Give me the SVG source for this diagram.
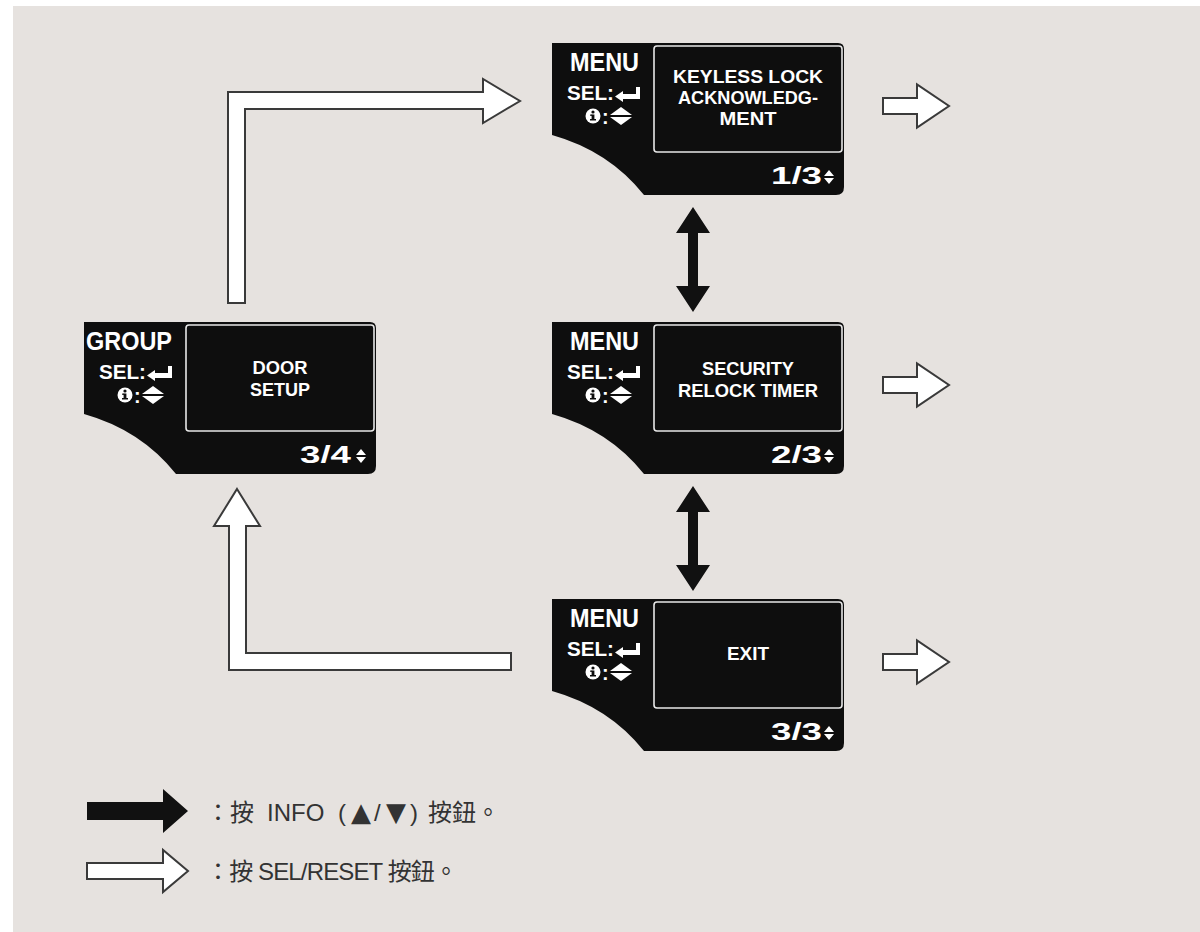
<svg xmlns="http://www.w3.org/2000/svg" xmlns:xlink="http://www.w3.org/1999/xlink" width="1200" height="932" viewBox="0 0 1200 932">
<style>
.bg{fill:#e6e2df}
.node{fill:#0e0e0e}
.screen{fill:none;stroke:#e8e8e8;stroke-width:1.6}
.t{font-family:"Liberation Sans",Arial,sans-serif;font-weight:bold;fill:#fff}
.title{font-size:26px}
.sel{font-size:20px}
.inner{font-size:19px;text-anchor:middle}
.page{font-size:23px}
.ico{fill:#fff}
.white-arrow{fill:#fff;stroke:#3a3a3a;stroke-width:2;stroke-linejoin:miter}
.black-arrow{fill:#111}
.legend{font-family:"Liberation Sans","Noto Sans CJK TC",sans-serif;font-size:24px;fill:#333}
.tri{font-family:"DejaVu Sans",sans-serif;font-size:26px}
</style>
<defs>
<path id="nodeShape" d="M0,0 H286 Q292,0 292,6 V144 Q292,152 284,152 H92 Q57,108 0,92 Z"/>
<g id="retIcon"><path d="M63,53.5 L71,48 V51 H84 V44 H88 V56 H71 V59 Z"/></g>
<g id="infoIcon">
<circle cx="41" cy="73" r="7.5" fill="#fff"/>
<circle cx="41" cy="69" r="1.6" fill="#0e0e0e"/>
<rect x="39.6" y="71.5" width="2.8" height="5.5" fill="#0e0e0e"/>
<rect x="38.2" y="71.5" width="2" height="1.4" fill="#0e0e0e"/>
<rect x="38" y="76" width="6" height="1.5" fill="#0e0e0e"/>
</g>
<g id="udIcon"><path d="M69,64 L80,72 H58 Z M58,74 H80 L69,82 Z"/></g>
<g id="udSmall"><path d="M277,127 L282,133 H272 Z M272,135 H282 L277,141 Z"/></g>
</defs>
<rect x="13" y="6" width="1187" height="926" class="bg"/>

<g id="connectors">
<path class="white-arrow" d="M228,303 V92 H483 V79 L520,101 L483,123 V109 H245 V303 Z"/>
<path class="white-arrow" d="M237,489 L260,526 H246 V653 H511 V670 H229 V526 H214 Z"/>
<path class="white-arrow" d="M883,98 H917 V84.5 L949,106 L917,127.5 V114 H883 Z"/>
<path class="white-arrow" d="M883,377 H917 V363.5 L949,385 L917,406.5 V393 H883 Z"/>
<path class="white-arrow" d="M883,654 H917 V640.5 L949,662 L917,683.5 V670 H883 Z"/>
<path class="black-arrow" d="M693,207 L710,233 H698 V286 H710 L693,312 L676,286 H688 V233 H676 Z"/>
<path class="black-arrow" d="M693,486 L710,512 H698 V565 H710 L693,591 L676,565 H688 V512 H676 Z"/>
</g>

<g id="node-group" transform="translate(84,322)">
<use xlink:href="#nodeShape" class="node"/>
<rect x="102" y="3" width="188" height="106" rx="3" class="screen"/>
<text class="t title" x="2" y="28" textLength="86" lengthAdjust="spacingAndGlyphs">GROUP</text>
<text class="t sel" x="15" y="57" textLength="47" lengthAdjust="spacingAndGlyphs">SEL:</text>
<use xlink:href="#retIcon" class="ico"/>
<use xlink:href="#infoIcon"/>
<text class="t sel" x="50" y="81">:</text>
<use xlink:href="#udIcon" class="ico"/>
<text class="t inner" x="196" y="52" textLength="55" lengthAdjust="spacingAndGlyphs">DOOR</text>
<text class="t inner" x="196" y="74" textLength="60" lengthAdjust="spacingAndGlyphs">SETUP</text>
<text class="t page" x="216" y="141" textLength="51" lengthAdjust="spacingAndGlyphs">3/4</text>
<use xlink:href="#udSmall" class="ico"/>
</g>

<g id="node-menu-1" transform="translate(552,43)">
<use xlink:href="#nodeShape" class="node"/>
<rect x="102" y="3" width="188" height="106" rx="3" class="screen"/>
<text class="t title" x="18" y="28" textLength="69" lengthAdjust="spacingAndGlyphs">MENU</text>
<text class="t sel" x="15" y="57" textLength="47" lengthAdjust="spacingAndGlyphs">SEL:</text>
<use xlink:href="#retIcon" class="ico"/>
<use xlink:href="#infoIcon"/>
<text class="t sel" x="50" y="81">:</text>
<use xlink:href="#udIcon" class="ico"/>
<text class="t inner" x="196" y="40" textLength="150" lengthAdjust="spacingAndGlyphs">KEYLESS LOCK</text>
<text class="t inner" x="196" y="61" textLength="140" lengthAdjust="spacingAndGlyphs">ACKNOWLEDG-</text>
<text class="t inner" x="196" y="82" textLength="57" lengthAdjust="spacingAndGlyphs">MENT</text>
<text class="t page" x="219" y="141" textLength="51" lengthAdjust="spacingAndGlyphs">1/3</text>
<use xlink:href="#udSmall" class="ico"/>
</g>

<g id="node-menu-2" transform="translate(552,322)">
<use xlink:href="#nodeShape" class="node"/>
<rect x="102" y="3" width="188" height="106" rx="3" class="screen"/>
<text class="t title" x="18" y="28" textLength="69" lengthAdjust="spacingAndGlyphs">MENU</text>
<text class="t sel" x="15" y="57" textLength="47" lengthAdjust="spacingAndGlyphs">SEL:</text>
<use xlink:href="#retIcon" class="ico"/>
<use xlink:href="#infoIcon"/>
<text class="t sel" x="50" y="81">:</text>
<use xlink:href="#udIcon" class="ico"/>
<text class="t inner" x="196" y="53" textLength="92" lengthAdjust="spacingAndGlyphs">SECURITY</text>
<text class="t inner" x="196" y="75" textLength="140" lengthAdjust="spacingAndGlyphs">RELOCK TIMER</text>
<text class="t page" x="219" y="141" textLength="51" lengthAdjust="spacingAndGlyphs">2/3</text>
<use xlink:href="#udSmall" class="ico"/>
</g>

<g id="node-menu-3" transform="translate(552,599)">
<use xlink:href="#nodeShape" class="node"/>
<rect x="102" y="3" width="188" height="106" rx="3" class="screen"/>
<text class="t title" x="18" y="28" textLength="69" lengthAdjust="spacingAndGlyphs">MENU</text>
<text class="t sel" x="15" y="57" textLength="47" lengthAdjust="spacingAndGlyphs">SEL:</text>
<use xlink:href="#retIcon" class="ico"/>
<use xlink:href="#infoIcon"/>
<text class="t sel" x="50" y="81">:</text>
<use xlink:href="#udIcon" class="ico"/>
<text class="t inner" x="196" y="61" textLength="42" lengthAdjust="spacingAndGlyphs">EXIT</text>
<text class="t page" x="219" y="141" textLength="51" lengthAdjust="spacingAndGlyphs">3/3</text>
<use xlink:href="#udSmall" class="ico"/>
</g>

<g id="legend">
<path class="black-arrow" d="M87,802 H163 V789 L188,811 L163,833 V820 H87 Z"/>
<path class="white-arrow" d="M87,863 H163 V850 L188,871 L163,892 V879 H87 Z"/>
<text class="legend" y="821"><tspan x="206">：按 </tspan><tspan x="267">INFO </tspan><tspan x="338">(</tspan><tspan class="tri" x="351">▲</tspan><tspan x="374">/</tspan><tspan class="tri" x="386">▼</tspan><tspan x="410">) </tspan><tspan x="428">按鈕。</tspan></text>
<text class="legend" x="206" y="880" textLength="252" lengthAdjust="spacing">：按 SEL/RESET 按鈕。</text>
</g>
</svg>
